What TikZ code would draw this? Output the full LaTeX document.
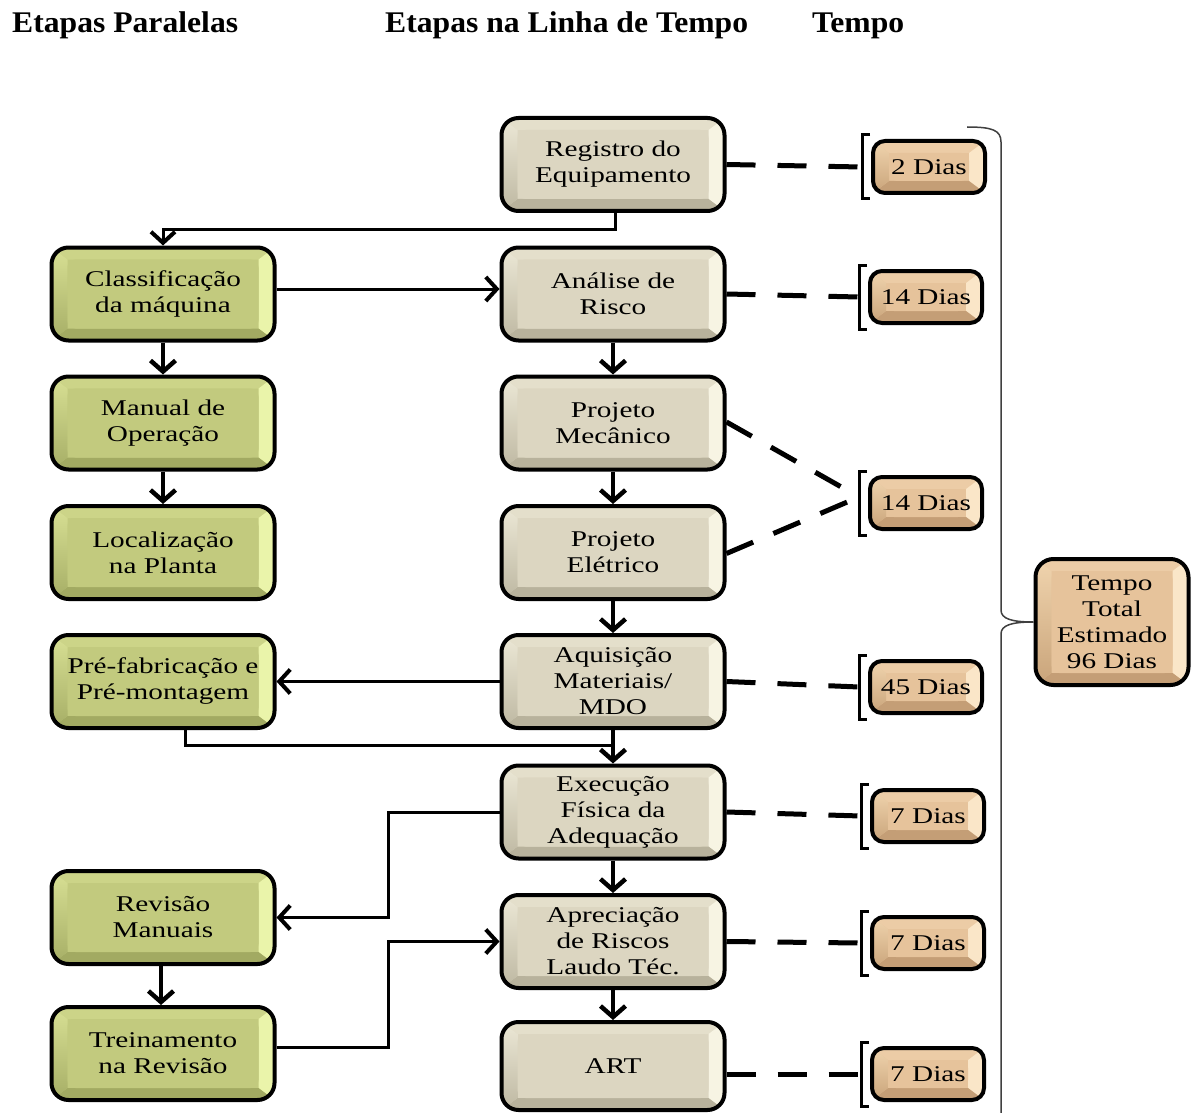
\documentclass[tikz,border=0pt]{standalone}
\usepackage{fontspec}
\setmainfont{Liberation Serif}
\newfontfamily\bxfont[FakeStretch=1.3]{Liberation Serif}
\newfontfamily\hdfont[FakeStretch=1.055]{Liberation Serif}
\usetikzlibrary{arrows.meta,calc}
\definecolor{bgC}{HTML}{DCD6C1}
\definecolor{bgT}{HTML}{E4DFCB}
\definecolor{bgR}{HTML}{F7F4E3}
\definecolor{bgB}{HTML}{B8B29C}
\definecolor{bgL}{HTML}{BEB8A2}
\definecolor{bgLt}{HTML}{ECE8D6}
\definecolor{grC}{HTML}{C2CA7E}
\definecolor{grT}{HTML}{CCD488}
\definecolor{grR}{HTML}{EAF4AA}
\definecolor{grB}{HTML}{A2AA62}
\definecolor{grL}{HTML}{A6AE66}
\definecolor{grLt}{HTML}{D8E094}
\definecolor{tnC}{HTML}{E6C39B}
\definecolor{tnT}{HTML}{ECCCA6}
\definecolor{tnR}{HTML}{FAE6C8}
\definecolor{tnB}{HTML}{C49E76}
\definecolor{tnL}{HTML}{C9A47A}
\definecolor{tnLt}{HTML}{F0D4AE}
\definecolor{brcol}{HTML}{404040}
\tikzset{
  bevelbox/.style n args={6}{
    draw=black, line width=4pt, rounded corners=17pt, align=center,
    font=\bxfont\fontsize{22.5pt}{26pt}\selectfont, inner sep=0pt,
    path picture={
      \begin{scope}[sharp corners]
      \fill[#1] (path picture bounding box.south west) rectangle (path picture bounding box.north east);
      \fill[#2] (path picture bounding box.north west) -- (path picture bounding box.north east)
        -- ([shift={(-16pt,-12pt)}]path picture bounding box.north east)
        -- ([shift={(16pt,-12pt)}]path picture bounding box.north west) -- cycle;
      \fill[#3] (path picture bounding box.north east) -- (path picture bounding box.south east)
        -- ([shift={(-16pt,12pt)}]path picture bounding box.south east)
        -- ([shift={(-16pt,-12pt)}]path picture bounding box.north east) -- cycle;
      \fill[#4] (path picture bounding box.south east) -- (path picture bounding box.south west)
        -- ([shift={(16pt,12pt)}]path picture bounding box.south west)
        -- ([shift={(-16pt,12pt)}]path picture bounding box.south east) -- cycle;
      \shade[top color=#6, bottom color=#5] (path picture bounding box.south west) -- (path picture bounding box.north west)
        -- ([shift={(16pt,-12pt)}]path picture bounding box.north west)
        -- ([shift={(16pt,12pt)}]path picture bounding box.south west) -- cycle;
      \fill[#1, rounded corners=8pt] ([shift={(16pt,-12pt)}]path picture bounding box.north west)
        rectangle ([shift={(-16pt,12pt)}]path picture bounding box.south east);
      \end{scope}
    }
  },
  beige/.style={bevelbox={bgC}{bgT}{bgR}{bgB}{bgL}{bgLt}, minimum width=223pt, minimum height=93pt},
  green/.style={bevelbox={grC}{grT}{grR}{grB}{grL}{grLt}, minimum width=223pt, minimum height=93pt},
  tan/.style={bevelbox={tnC}{tnT}{tnR}{tnB}{tnL}{tnLt}, minimum width=112pt, minimum height=52pt, rounded corners=12pt},
  heading/.style={anchor=base west, inner sep=0pt, font=\hdfont\bfseries\fontsize{30pt}{36pt}\selectfont},
  vconn/.style={line width=4.5pt, -{Straight Barb[length=11pt,width=25pt,line width=4.5pt]}},
  hconn/.style={line width=3pt, -{Straight Barb[length=11pt,width=24pt,line width=4pt]}},
  plain/.style={line width=3pt},
  dsh/.style={line width=5pt, dash pattern=on 29pt off 22pt},
  brk/.style={line width=3pt},
  brc/.style={line width=1.5pt, draw=brcol},
}
\begin{document}
\begin{tikzpicture}[x=1pt,y=-1pt]
\useasboundingbox[fill=white] (0,0) rectangle (1195,1113);
% headings
\node[heading] (h1) at (12,33) {Etapas Paralelas};
\node[heading] (h2) at (385,33) {Etapas na Linha de Tempo};
\node[heading] (h3) at (812,33) {Tempo};
% center column
\node[beige] (reg) at (613,164.5) {Registro do\\Equipamento};
\node[beige] (ana) at (613,294) {Análise de\\Risco};
\node[beige] (pm) at (613,423) {Projeto\\Mecânico};
\node[beige] (pe) at (613,552.5) {Projeto\\Elétrico};
\node[beige] (aq) at (613,681.5) {Aquisição\\Materiais/\\MDO};
\node[beige] (ex) at (613,812) {Execução\\Física da\\Adequação};
\node[beige] (ap) at (613,941.5) {Apreciação\\de Riscos\\Laudo Téc.};
\node[beige, minimum height=88pt] (art) at (613,1066) {ART};
% left column
\node[green] (cla) at (163,294) {Classificação\\da máquina};
\node[green] (man) at (163,423) {Manual de\\Operação};
\node[green] (loc) at (163,552.5) {Localização\\na Planta};
\node[green] (pre) at (163,681.5) {Pré-fabricação e\\Pré-montagem};
\node[green] (rev) at (163,917.5) {Revisão\\Manuais};
\node[green] (trei) at (163,1053.5) {Treinamento\\na Revisão};
% day boxes
\node[tan] (d1) at (929,167) {2 Dias};
\node[tan] (d2) at (926,297) {14 Dias};
\node[tan] (d3) at (926,503) {14 Dias};
\node[tan] (d4) at (926,687) {45 Dias};
\node[tan] (d5) at (928,816) {7 Dias};
\node[tan] (d6) at (928,943) {7 Dias};
\node[tan] (d7) at (928,1074) {7 Dias};
\node[tan, minimum width=153pt, minimum height=126pt, rounded corners=18pt] (tt) at (1112,622) {Tempo\\Total\\Estimado\\96 Dias};
% brackets
\foreach \d in {d1,d2,d3,d4,d5,d6,d7}{
  \draw[brk] ([shift={(-1pt,4pt)}]\d.north west) -- ([shift={(-9pt,4pt)}]\d.north west)
    -- ([shift={(-9pt,-4pt)}]\d.south west) -- ([shift={(-1pt,-4pt)}]\d.south west);
  \coordinate (b\d) at ([xshift=-9pt]\d.west);
}
% dashed links
\draw[dsh] (reg.east) -- (bd1);
\draw[dsh] (ana.east) -- (bd2);
\draw[dsh] ([yshift=1pt]pm.east) -- ([yshift=6pt]bd3);
\draw[dsh] ([yshift=-1pt]pe.east) -- ([yshift=6pt]bd3);
\draw[dsh] (aq.east) -- (bd4);
\draw[dsh] (ex.east) -- (bd5);
\draw[dsh] (ap.east) -- (bd6);
\draw[dsh] (art.east |- d7.west) -- (bd7);
% big brace
\draw[brc] (967,127) .. controls (992,127) and (1001,130) .. (1001,142) -- (1001,610)
  .. controls (1001,619) and (1012,622) .. (tt.west)
  .. controls (1012,622) and (1001,625) .. (1001,634) -- (1001,1113);
% connectors center column
\draw[hconn] ([xshift=2pt]reg.south) -- ++(0,16) -| (cla.north);
\draw[hconn] ([yshift=5pt]cla.east) -- ([yshift=5pt]ana.west);
\draw[vconn] (ana.south) -- (pm.north);
\draw[vconn] (pm.south) -- (pe.north);
\draw[vconn] (pe.south) -- (aq.north);
\draw[vconn] (aq.south) -- (ex.north);
\draw[vconn] (ex.south) -- (ap.north);
\draw[vconn] (ap.south) -- (art.north);
% left column
\draw[vconn] (cla.south) -- (man.north);
\draw[vconn] (man.south) -- (loc.north);
\draw[vconn] ([xshift=-2pt]rev.south) -- ([xshift=-2pt]trei.north);
\draw[hconn] (aq.west) -- (pre.east);
\coordinate (m1) at ($(aq.south)!0.45!(ex.north)$);
\draw[plain] ([xshift=22pt]pre.south) |- (m1);
\coordinate (jx) at (388,0);
\draw[hconn] (ex.west) -- (ex.west -| jx) |- (rev.east);
\draw[hconn] ([yshift=6pt]trei.east) -- ([yshift=6pt]trei.east -| jx) |- (ap.west);
\end{tikzpicture}
\end{document}
